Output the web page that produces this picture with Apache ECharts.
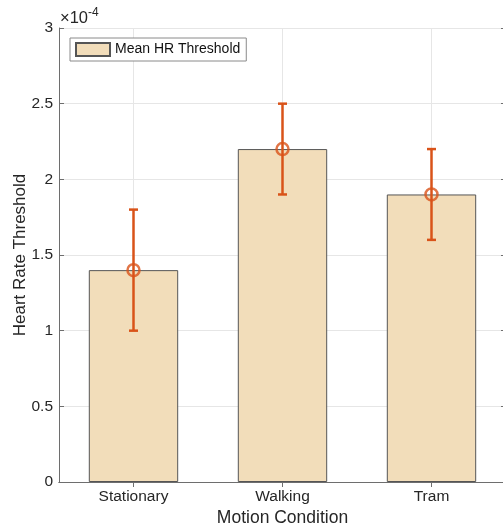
<!DOCTYPE html>
<html><head><meta charset="utf-8">
<script src="https://cdn.jsdelivr.net/npm/echarts@6/dist/echarts.min.js"></script>
<style>html,body{margin:0;padding:0;background:#fff}#c{width:503px;height:531px}</style>
</head><body><div id="c"></div>
<script>
const categories = ['Stationary', 'Walking', 'Tram'];
const meanValues = [1.4e-4, 2.2e-4, 1.9e-4];
const errLow = [1.0e-4, 1.9e-4, 1.6e-4];
const errHigh = [1.8e-4, 2.5e-4, 2.2e-4];
const yTicks = [0, 0.5e-4, 1e-4, 1.5e-4, 2e-4, 2.5e-4, 3e-4];

const FONT = '"Liberation Sans", Arial, Helvetica, sans-serif';
const TXT = '#262626';
const AX = '#6e6e6e';
const ERR = '#D95319';
const fmt = v => String(parseFloat((v * 1e4).toFixed(4)));

const chart = echarts.init(document.getElementById('c'), null, {renderer: 'canvas'});
const grid = {left: 59, top: 28, width: 447, height: 454, containLabel: false, outerBoundsMode: 'none'};

chart.setOption({
  animation: false,
  backgroundColor: '#fff',
  textStyle: {fontFamily: FONT},
  grid: grid,
  legend: {
    left: 70, top: 38, padding: [4, 6, 4, 5],
    backgroundColor: '#fff', borderColor: '#8a8a8a', borderWidth: 1, borderRadius: 0,
    itemWidth: 34, itemHeight: 13,
    textStyle: {fontFamily: FONT, fontSize: 14, color: '#111'},
    data: [{name: 'Mean HR Threshold', icon: 'rect'}],
    selectedMode: false
  },
  graphic: [{
    type: 'text', left: 60, top: 7,
    style: {
      text: '{a|×10}{b|-4}', fontFamily: FONT,
      rich: {
        a: {fontSize: 16.5, fill: TXT, fontFamily: FONT, verticalAlign: 'bottom'},
        b: {fontSize: 12, fill: TXT, fontFamily: FONT, verticalAlign: 'top', padding: [0, 0, 8, 0]}
      }
    }
  }],
  xAxis: [{
    type: 'category', data: categories, position: 'bottom',
    name: 'Motion Condition', nameLocation: 'middle', nameGap: 27, nameMoveOverlap: false,
    nameTextStyle: {fontSize: 17.5, color: TXT, fontFamily: FONT},
    axisLine: {show: true, lineStyle: {color: AX, width: 1}},
    axisTick: {show: true, inside: true, alignWithLabel: true, length: 5, lineStyle: {color: AX}},
    axisLabel: {fontSize: 15.5, color: TXT, margin: 7, fontFamily: FONT},
    splitLine: {show: false}
  }, {
    type: 'category', data: categories, position: 'top',
    axisLine: {show: true, lineStyle: {color: AX, width: 1}},
    axisTick: {show: true, inside: true, alignWithLabel: true, length: 5, lineStyle: {color: AX}},
    axisLabel: {show: false}, splitLine: {show: false}
  }],
  yAxis: [{
    type: 'value', min: 0, max: 3e-4, interval: 0.5e-4, position: 'left',
    name: 'Heart Rate Threshold', nameLocation: 'middle', nameGap: 30.5, nameMoveOverlap: false,
    nameTextStyle: {fontSize: 17, color: TXT, fontFamily: FONT},
    axisLine: {show: true, lineStyle: {color: AX, width: 1}},
    axisTick: {show: true, inside: true, length: 5, lineStyle: {color: AX}},
    axisLabel: {fontSize: 15.5, color: TXT, margin: 6, fontFamily: FONT, formatter: fmt},
    splitLine: {show: true, lineStyle: {color: '#e6e6e6', width: 1}}
  }, {
    type: 'value', min: 0, max: 3e-4, interval: 0.5e-4, position: 'right',
    axisLine: {show: true, lineStyle: {color: AX, width: 1}},
    axisTick: {show: true, inside: true, length: 5, lineStyle: {color: AX}},
    axisLabel: {show: false}, splitLine: {show: false}
  }],
  series: [{
    name: 'Mean HR Threshold', type: 'bar', data: meanValues,
    barWidth: '60%', z: 2,
    itemStyle: {color: '#F2DDBA', borderColor: '#555555', borderWidth: 1},
    markLine: {
      silent: true, symbol: 'none', label: {show: false}, z: 1,
      lineStyle: {color: '#e6e6e6', type: 'solid', width: 1},
      data: categories.map(c => ({xAxis: c}))
    }
  }, {
    name: 'err', type: 'custom', z: 5,
    data: categories.map((c, i) => [i, errLow[i], errHigh[i]]),
    renderItem: function (params, api) {
      const lo = api.coord([api.value(0), api.value(1)]);
      const hi = api.coord([api.value(0), api.value(2)]);
      const hw = 4.5;
      const st = {stroke: ERR, lineWidth: 2.5};
      return {type: 'group', children: [
        {type: 'line', shape: {x1: lo[0], y1: lo[1], x2: hi[0], y2: hi[1]}, style: st},
        {type: 'line', shape: {x1: lo[0] - hw, y1: lo[1], x2: lo[0] + hw, y2: lo[1]}, style: st},
        {type: 'line', shape: {x1: hi[0] - hw, y1: hi[1], x2: hi[0] + hw, y2: hi[1]}, style: st}
      ]};
    }
  }, {
    name: 'mean', type: 'scatter', z: 6,
    data: meanValues, symbol: 'circle', symbolSize: 12,
    itemStyle: {color: 'rgba(0,0,0,0)', borderColor: ERR, borderWidth: 2.5}
  }]
});
</script></body></html>
